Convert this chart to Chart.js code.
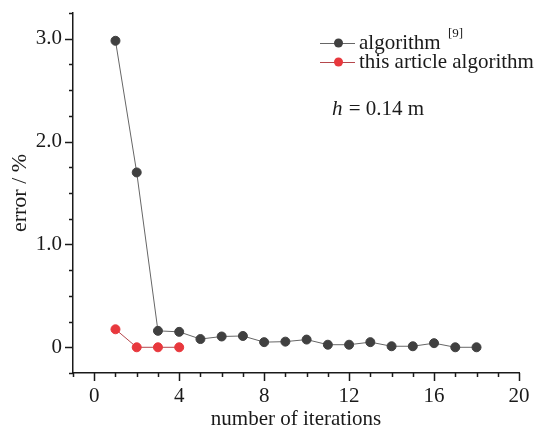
<!DOCTYPE html>
<html>
<head>
<meta charset="utf-8">
<script src="https://cdn.jsdelivr.net/npm/chart.js@4/dist/chart.umd.min.js"></script>
<style>
  html, body { margin: 0; padding: 0; background: #fff; }
  canvas { display: block; }
</style>
</head>
<body>
<canvas id="chart" width="538" height="427"></canvas>
<script>
// iterations on the x axis
const iterRef = [1, 2, 3, 4, 5, 6, 7, 8, 9, 10, 11, 12, 13, 14, 15, 16, 17, 18];
const errorRef = [2.98, 1.70, 0.16, 0.15, 0.08, 0.105, 0.11, 0.05, 0.055, 0.075, 0.025, 0.025, 0.05, 0.01, 0.01, 0.04, 0, 0];

const iterOurs = [1, 2, 3, 4];
const errorOurs = [0.175, 0, 0, 0];

const seriesNames = ['algorithm', 'this article algorithm'];
const refNote = '[9]';
const noteText = ['h', ' = 0.14 m'];

const xTitle = 'number of iterations';
const yTitle = 'error / %';

const FONT = '"Liberation Serif", "Times New Roman", serif';
const INK = '#1a1a1a';

const toPoints = (xs, ys) => xs.map((x, i) => ({ x: x, y: ys[i] }));

// tick marks: long on labelled values, short on the minor steps
const tickMarks = {
  id: 'tickMarks',
  afterDraw(chart) {
    const ctx = chart.ctx;
    const xs = chart.scales.x, ys = chart.scales.y;
    const area = chart.chartArea;
    ctx.save();
    ctx.strokeStyle = INK;
    ctx.lineWidth = 1.5;
    ys.ticks.forEach(t => {
      const py = Math.round(ys.getPixelForValue(t.value)) + 0.5;
      const major = Math.abs(t.value - Math.round(t.value)) < 1e-6;
      ctx.beginPath();
      ctx.moveTo(area.left, py);
      ctx.lineTo(area.left - (major ? 8 : 4), py);
      ctx.stroke();
    });
    xs.ticks.forEach(t => {
      const px = Math.round(xs.getPixelForValue(t.value)) + 0.5;
      const major = t.value % 4 === 0;
      ctx.beginPath();
      ctx.moveTo(px, area.bottom);
      ctx.lineTo(px, area.bottom + (major ? 8 : 4));
      ctx.stroke();
    });
    ctx.restore();
  }
};

// legend and annotation in the upper right
const legendBox = {
  id: 'legendBox',
  afterDraw(chart) {
    const ctx = chart.ctx;
    const sets = chart.data.datasets;
    const x0 = 320, x1 = 355, tx = 359;
    const rows = [43, 62];
    ctx.save();
    rows.forEach((y, i) => {
      const ds = sets[i];
      ctx.strokeStyle = ds.borderColor;
      ctx.lineWidth = 1.2;
      ctx.beginPath();
      ctx.moveTo(x0, y + 0.5);
      ctx.lineTo(x1, y + 0.5);
      ctx.stroke();
      ctx.fillStyle = ds.pointBackgroundColor;
      ctx.beginPath();
      ctx.arc(338.5, y, 4.5, 0, Math.PI * 2);
      ctx.fill();
      ctx.fillStyle = INK;
      ctx.font = '21px ' + FONT;
      ctx.textBaseline = 'middle';
      ctx.textAlign = 'left';
      ctx.fillText(seriesNames[i], tx, y);
      if (i === 0) {
        const w = ctx.measureText(seriesNames[i] + ' ').width;
        ctx.font = '13px ' + FONT;
        ctx.fillText(refNote, tx + w + 2, y - 9);
      }
    });
    ctx.font = 'italic 21px ' + FONT;
    ctx.textBaseline = 'middle';
    ctx.fillText(noteText[0], 332, 109);
    const hw = ctx.measureText(noteText[0]).width;
    ctx.font = '21px ' + FONT;
    ctx.fillText(noteText[1], 332 + hw + 1, 109);
    ctx.restore();
  }
};

new Chart(document.getElementById('chart').getContext('2d'), {
  type: 'line',
  data: {
    datasets: [{
      label: seriesNames[0],
      data: toPoints(iterRef, errorRef),
      borderColor: '#666666',
      borderWidth: 1,
      pointBackgroundColor: '#404040',
      pointBorderColor: '#404040',
      pointRadius: 4.5,
      tension: 0
    }, {
      label: seriesNames[1],
      data: toPoints(iterOurs, errorOurs),
      borderColor: '#b5474c',
      borderWidth: 1,
      pointBackgroundColor: '#e8383d',
      pointBorderColor: '#e8383d',
      pointRadius: 4.5,
      tension: 0
    }]
  },
  options: {
    responsive: false,
    animation: false,
    layout: { padding: { top: 13, right: 19, left: 0, bottom: 0 } },
    plugins: {
      legend: { display: false },
      tooltip: { enabled: false }
    },
    scales: {
      x: {
        type: 'linear',
        min: -1,
        max: 20,
        grid: { display: false, drawTicks: false },
        border: { display: true, color: INK, width: 1.5 },
        ticks: {
          stepSize: 1,
          padding: 11,
          color: INK,
          font: { family: FONT, size: 21 },
          maxRotation: 0,
          autoSkip: false,
          callback: v => (v >= 0 && v % 4 === 0) ? String(v) : ''
        },
        title: {
          display: true,
          text: xTitle,
          color: INK,
          font: { family: FONT, size: 21 },
          padding: { top: 0, bottom: -5 }
        },
        afterFit: s => {
          s.height = 54;
          s.paddingLeft = 0;
          s.paddingRight = 0;
        }
      },
      y: {
        min: -0.25,
        max: 3.25,
        grid: { display: false, drawTicks: false },
        border: { display: true, color: INK, width: 1.5 },
        ticks: {
          stepSize: 0.25,
          padding: 11,
          color: INK,
          font: { family: FONT, size: 21 },
          autoSkip: false,
          callback: v => {
            if (Math.abs(v - Math.round(v)) > 1e-6 || v < 0) return '';
            return v === 0 ? '0' : v.toFixed(1);
          }
        },
        title: {
          display: true,
          text: yTitle,
          color: INK,
          font: { family: FONT, size: 22 },
          padding: { top: 7, bottom: 0 }
        },
        afterFit: s => {
          s.width = 73;
          s.paddingTop = 0;
          s.paddingBottom = 0;
        }
      }
    }
  },
  plugins: [tickMarks, legendBox]
});
</script>
</body>
</html>
